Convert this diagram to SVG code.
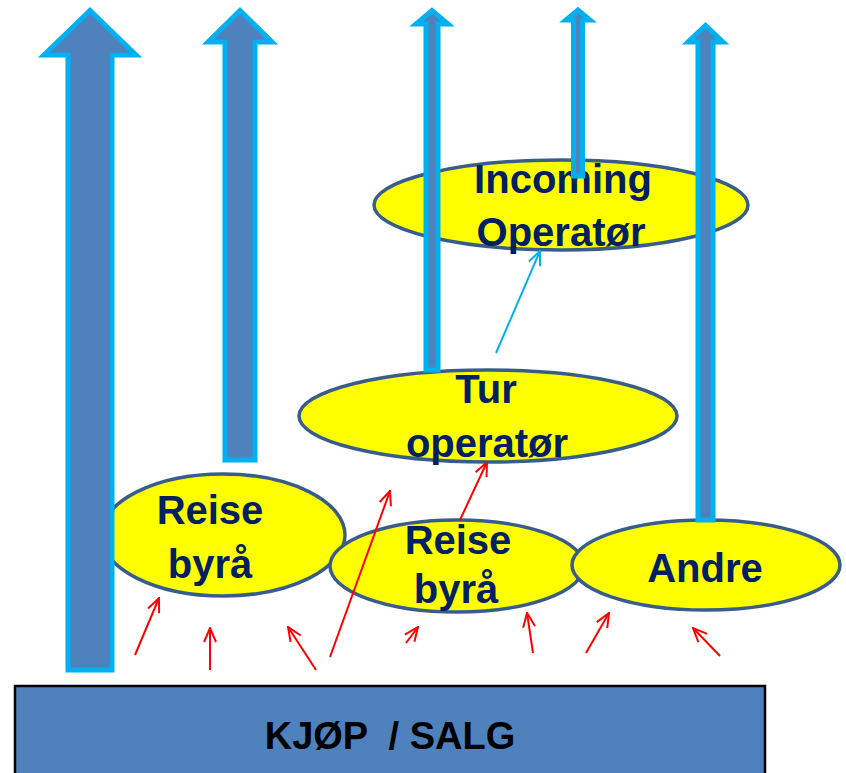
<svg xmlns="http://www.w3.org/2000/svg" width="846" height="773" viewBox="0 0 846 773">
<style>
.ell{fill:#FFFF00;stroke:#385D8A;stroke-width:3.5}
.lbl{font-family:"Liberation Sans",Arial,sans-serif;font-weight:bold;font-size:40px;fill:#002060;text-anchor:middle}
.big{fill:#4F81BD;stroke:#00B0F0;stroke-width:5;stroke-linejoin:miter}
.red{fill:none;stroke:#FF0000;stroke-width:2;marker-end:url(#ra)}
.cyan{fill:none;stroke:#00B0F0;stroke-width:2;marker-end:url(#ca)}
</style>
<defs>
<marker id="ra" viewBox="0 0 16 14" refX="15" refY="7" markerWidth="16" markerHeight="14" markerUnits="userSpaceOnUse" orient="auto">
<path d="M1,1 L15,7 L1,13" fill="none" stroke="#FF0000" stroke-width="2"/>
</marker>
<marker id="ca" viewBox="0 0 16 14" refX="15" refY="7" markerWidth="16" markerHeight="14" markerUnits="userSpaceOnUse" orient="auto">
<path d="M1,1 L15,7 L1,13" fill="none" stroke="#00B0F0" stroke-width="2"/>
</marker>
</defs>
<rect width="846" height="773" fill="#FFFFFF"/>
<g id="kjop-salg">
<rect x="15" y="686" width="750" height="100" fill="#4F81BD" stroke="#000000" stroke-width="2.5"/>
<text x="390" y="749" style="font-family:'Liberation Sans',Arial,sans-serif;font-weight:bold;font-size:38px;fill:#000000;text-anchor:middle;white-space:pre" xml:space="preserve">KJØP  / SALG</text>
</g>
<g id="reisebyra-1">
<ellipse class="ell" cx="223" cy="535" rx="122" ry="61"/>
<text class="lbl" x="210" y="524">Reise</text>
<text class="lbl" x="210" y="578">byrå</text>
</g>
<g id="reisebyra-2">
<ellipse class="ell" cx="457" cy="566" rx="127" ry="46"/>
<text class="lbl" x="458" y="554">Reise</text>
<text class="lbl" x="456" y="603">byrå</text>
</g>
<g id="andre">
<ellipse class="ell" cx="706" cy="565" rx="134" ry="45"/>
<text class="lbl" x="705" y="582">Andre</text>
</g>
<g id="turoperator">
<ellipse class="ell" cx="488" cy="416" rx="189" ry="46"/>
<text class="lbl" x="486" y="403">Tur</text>
<text class="lbl" x="487" y="457">operatør</text>
</g>
<g id="incoming">
<ellipse class="ell" cx="561" cy="205" rx="187" ry="45"/>
<text class="lbl" x="563" y="193">Incoming</text>
<text class="lbl" x="561" y="246">Operatør</text>
</g>
<g id="connectors">
<polygon class="big" points="68,670 68,55 44,55 90,10.5 136,55 112,55 112,670"/>
<polygon class="big" points="225,460 225,42 208,42 240,10.5 272,42 255,42 255,460"/>
<polygon class="big" points="426,370 426,24 416,24 432,10.5 448,24 438,24 438,370"/>
<polygon class="big" points="573.5,176 573.5,20 566,20 578,10 590,20 582.5,20 582.5,176"/>
<polygon class="big" points="698,520 698,42 688,42 705.5,25.5 723,42 713,42 713,520"/>
<line class="cyan" x1="496" y1="353" x2="540" y2="251"/>
<line class="red" x1="135" y1="655" x2="159" y2="598"/>
<line class="red" x1="210" y1="670" x2="210" y2="628"/>
<line class="red" x1="316" y1="670" x2="288" y2="627"/>
<line class="red" x1="330" y1="657" x2="390" y2="491"/>
<line class="red" x1="406" y1="643" x2="418" y2="627"/>
<line class="red" x1="533" y1="653" x2="527" y2="613"/>
<line class="red" x1="586" y1="653" x2="609" y2="613"/>
<line class="red" x1="720" y1="656" x2="693" y2="628"/>
<line class="red" x1="460" y1="520" x2="487" y2="462"/>
</g>
</svg>
